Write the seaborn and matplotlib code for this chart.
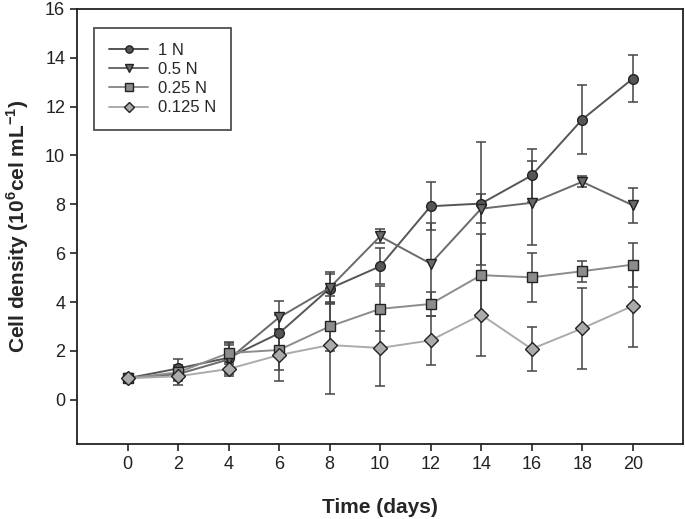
import numpy as np
import pandas as pd
import seaborn as sns
import matplotlib.pyplot as plt

# datos
dias = [0, 2, 4, 6, 8, 10, 12, 14, 16, 18, 20]
series = ['1 N', '0.5 N', '0.25 N', '0.125 N']

n_1 = [0.88, 1.28, 1.72, 2.72, 4.55, 5.46, 7.92, 8.03, 9.18, 11.47, 13.14]
n_05 = [0.88, 1.05, 1.65, 3.37, 4.58, 6.69, 5.57, 7.82, 8.06, 8.92, 7.96]
n_025 = [0.88, 1.12, 1.91, 2.04, 3.00, 3.72, 3.92, 5.10, 5.01, 5.26, 5.53]
n_0125 = [0.88, 0.96, 1.26, 1.83, 2.24, 2.12, 2.43, 3.48, 2.08, 2.92, 3.84]

err_1 = [0.05, 0.38, 0.6, 0.75, 0.6, 0.74, 0.98, 2.53, 1.07, 1.42, 0.95]
err_05 = [0.05, 0.3, 0.6, 0.69, 0.65, 0.28, 1.65, 0.6, 1.73, 0.23, 0.72]
err_025 = [0.05, 0.3, 0.45, 0.82, 1.0, 0.92, 0.48, 1.7, 1.0, 0.42, 0.9]
err_0125 = [0.05, 0.37, 0.3, 1.05, 2.0, 1.57, 1.0, 1.68, 0.9, 1.67, 1.68]

valores = [n_1, n_05, n_025, n_0125]
errores = [err_1, err_05, err_025, err_0125]

df = pd.DataFrame({
    'dia': dias * 4,
    'densidad': sum(valores, []),
    'serie': sum([[s] * len(dias) for s in series], []),
})

colores = {'1 N': '#555555', '0.5 N': '#6a6a6a', '0.25 N': '#8c8c8c', '0.125 N': '#ababab'}
marcadores = {'1 N': 'o', '0.5 N': 'v', '0.25 N': 's', '0.125 N': 'D'}

sns.set_style('ticks')
plt.rcParams['font.family'] = ['Liberation Sans', 'DejaVu Sans']
plt.rcParams['mathtext.fontset'] = 'custom'
plt.rcParams['mathtext.rm'] = 'Liberation Sans'
plt.rcParams['mathtext.bf'] = 'Liberation Sans:bold'

fig = plt.figure(figsize=(6.85, 5.19), dpi=100)
ax = fig.add_axes([0.1124, 0.145, 0.885, 0.838])

# barras de error
for s, v, e in zip(series, valores, errores):
    ax.errorbar(dias, v, yerr=e, fmt='none', ecolor='#444444', elinewidth=1.1,
                capsize=3.5, capthick=1.1, zorder=1)

sns.lineplot(data=df, x='dia', y='densidad', hue='serie', style='serie',
             palette=colores, markers=marcadores, dashes=False, ax=ax,
             linewidth=1.4, markersize=7, markeredgecolor='#222222',
             markeredgewidth=1.0, zorder=3)

ax.set_xlim(-2, 22)
ax.set_ylim(-1.8, 16)
ax.set_xticks(dias)
ax.set_yticks(np.arange(0, 17, 2))
ax.tick_params(axis='both', direction='out', length=5, width=1.2, labelsize=13,
               colors='#222222', labelcolor='#222222')
for sp in ax.spines.values():
    sp.set_linewidth(1.3)
    sp.set_color('#222222')

ax.set_xlabel('Time (days)', fontsize=15, fontweight='bold', labelpad=18)
ax.set_ylabel(r'Cell density (10$^{\mathbf{6}}$cel mL$^{\mathbf{-1}}$)',
              fontsize=15, fontweight='bold', labelpad=10)

leg = ax.legend(loc='upper left', bbox_to_anchor=(0.028, 0.956), borderaxespad=0,
                fontsize=12, frameon=True, fancybox=False, edgecolor='#222222',
                handlelength=2.35, handletextpad=0.6, borderpad=0.9,
                labelspacing=0.25, markerscale=0.75)
leg.get_frame().set_linewidth(1.3)

fig.savefig('out.png', dpi=100)
